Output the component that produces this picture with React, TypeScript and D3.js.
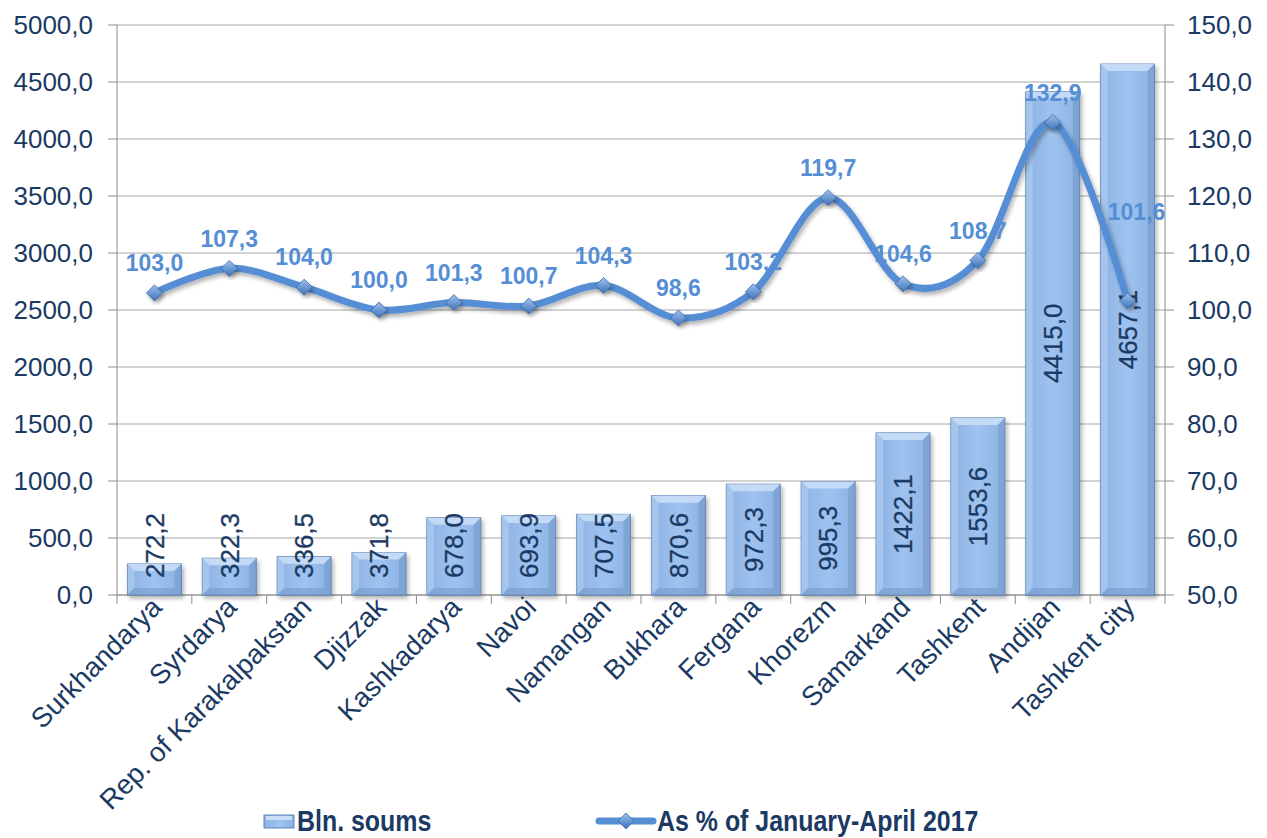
import React from "react";
import * as d3 from "d3";

const categories = [
  "Surkhandarya", "Syrdarya", "Rep. of Karakalpakstan", "Djizzak", "Kashkadarya",
  "Navoi", "Namangan", "Bukhara", "Fergana", "Khorezm", "Samarkand", "Tashkent",
  "Andijan", "Tashkent city",
];
const blnSoums = [272.2, 322.3, 336.5, 371.8, 678.0, 693.9, 707.5, 870.6, 972.3, 995.3, 1422.1, 1553.6, 4415.0, 4657.1];
const asPercent = [103.0, 107.3, 104.0, 100.0, 101.3, 100.7, 104.3, 98.6, 103.2, 119.7, 104.6, 108.7, 132.9, 101.6];
const leftTicks = [0, 500, 1000, 1500, 2000, 2500, 3000, 3500, 4000, 4500, 5000];
const rightTicks = [50, 60, 70, 80, 90, 100, 110, 120, 130, 140, 150];
const seriesNames = ["Bln. soums", "As %  of January-April 2017"];

// label nudges (style only)
const lineLabelNudge: Record<number, [number, number]> = { 13: [9, -59] };

const W = 1267, H = 838;
const L = 117, R = 1165, T = 25, B = 595;
const FONT = "'Liberation Sans', Arial, Helvetica, sans-serif";
const TXT = "#1b3a63";
const LINE = "#558ed5";

const fmt = (v: number) => v.toFixed(1).replace(".", ",");

export default function App() {
  const x = d3.scaleBand<string>().domain(categories).range([L, R]).paddingInner(0.28).paddingOuter(0.14);
  const band = (R - L) / categories.length;
  const yL = d3.scaleLinear().domain([0, 5000]).range([B, T]);
  const yR = d3.scaleLinear().domain([50, 150]).range([B, T]);
  const cx = (c: string) => (x(c) as number) + x.bandwidth() / 2;

  const pts: [number, number][] = categories.map((c, i) => [cx(c), yR(asPercent[i])]);
  const linePath = d3.line().curve(d3.curveCardinal.tension(0))(pts) as string;

  const bw = x.bandwidth();
  const bv = 7;
  const fsAxis = 26;
  const fsX = 27.5;
  const fsLbl = 23;

  const diamond = (px: number, py: number, s = 8) =>
    `M${px},${py - s}L${px + s},${py}L${px},${py + s}L${px - s},${py}Z`;

  return (
    <svg width={W} height={H} style={{ position: "absolute", left: 0, top: 0, background: "#fff" }}>
      <defs>
        <linearGradient id="barG" x1="0" x2="1" y1="0" y2="0">
          <stop offset="0" stopColor="#8cb2e2" />
          <stop offset="0.5" stopColor="#9fc3f0" />
          <stop offset="1" stopColor="#8cb2e2" />
        </linearGradient>
        <linearGradient id="dG" x1="0" x2="0" y1="0" y2="1">
          <stop offset="0" stopColor="#9cc2f0" />
          <stop offset="1" stopColor="#3f72b8" />
        </linearGradient>
        <filter id="sh" x="-20%" y="-20%" width="140%" height="140%">
          <feDropShadow dx="2" dy="3" stdDeviation="2" floodColor="#000" floodOpacity="0.3" />
        </filter>
      </defs>

      {/* gridlines */}
      {leftTicks.map((t) => (
        <line key={"g" + t} x1={L} x2={R} y1={yL(t)} y2={yL(t)} stroke="#a6a6a6" strokeWidth={1} />
      ))}
      {/* axes */}
      <line x1={L} x2={L} y1={T} y2={B} stroke="#8c8c8c" />
      <line x1={R} x2={R} y1={T} y2={B} stroke="#8c8c8c" />
      {leftTicks.map((t) => (
        <g key={"l" + t}>
          <line x1={L - 9} x2={L} y1={yL(t)} y2={yL(t)} stroke="#8c8c8c" />
          <text x={93} y={yL(t) + 9.3} textAnchor="end" fontFamily={FONT} fontSize={fsAxis} fill={TXT}>
            {fmt(t)}
          </text>
        </g>
      ))}
      {rightTicks.map((t) => (
        <g key={"r" + t}>
          <line x1={R} x2={R + 9} y1={yR(t)} y2={yR(t)} stroke="#8c8c8c" />
          <text x={1187} y={yR(t) + 9.3} textAnchor="start" fontFamily={FONT} fontSize={fsAxis} fill={TXT}>
            {fmt(t)}
          </text>
        </g>
      ))}
      {/* x ticks */}
      {d3.range(categories.length + 1).map((i) => (
        <line key={"xt" + i} x1={L + i * band} x2={L + i * band} y1={B} y2={B + 9} stroke="#8c8c8c" />
      ))}
      <line x1={L} x2={R} y1={B} y2={B} stroke="#8c8c8c" />

      {/* bars */}
      {categories.map((c, i) => {
        const x0 = x(c) as number;
        const y0 = yL(blnSoums[i]);
        const h = B - y0;
        return (
          <g key={"b" + c}>
            <rect x={x0} y={y0} width={bw} height={h} fill="url(#barG)" stroke="#5f82b6" strokeWidth={1} filter="url(#sh)" />
            <path d={`M${x0},${y0}L${x0 + bw},${y0}L${x0 + bw - bv},${y0 + bv}L${x0 + bv},${y0 + bv}Z`} fill="#c9def7" opacity={0.9} />
            <path d={`M${x0},${y0}L${x0 + bv},${y0 + bv}L${x0 + bv},${B - bv}L${x0},${B}Z`} fill="#b4d0f3" opacity={0.6} />
            <path d={`M${x0 + bw},${y0}L${x0 + bw - bv},${y0 + bv}L${x0 + bw - bv},${B - bv}L${x0 + bw},${B}Z`} fill="#6f95c8" opacity={0.5} />
            <path d={`M${x0},${B}L${x0 + bv},${B - bv}L${x0 + bw - bv},${B - bv}L${x0 + bw},${B}Z`} fill="#6f95c8" opacity={0.5} />
          </g>
        );
      })}

      {/* bar labels */}
      {categories.map((c, i) => {
        const s = fmt(blnSoums[i]);
        const len = (s.length - 1) * 0.556 * fsAxis + 0.278 * fsAxis;
        const mid = (yL(blnSoums[i]) + B) / 2;
        const cy = Math.min(mid, B - 17 - len / 2);
        const px = cx(c);
        return (
          <text key={"bl" + c} transform={`translate(${px + 9.3},${cy}) rotate(-90)`} textAnchor="middle"
            fontFamily={FONT} fontSize={fsAxis} fill={TXT} stroke={TXT} strokeWidth={0.3}>
            {s}
          </text>
        );
      })}

      {/* line */}
      <path d={linePath} fill="none" stroke={LINE} strokeWidth={7} strokeLinecap="round" filter="url(#sh)" />
      {pts.map(([px, py], i) => (
        <path key={"m" + i} d={diamond(px, py)} fill="url(#dG)" stroke="#3a6aa8" strokeWidth={0.8} filter="url(#sh)" />
      ))}
      {pts.map(([px, py], i) => {
        const n = lineLabelNudge[i] || [0, 0];
        return (
          <text key={"ll" + i} x={px + n[0]} y={py - 30 + 8.2 + n[1]} textAnchor="middle" fontFamily={FONT}
            fontWeight="bold" fontSize={fsLbl} fill={LINE}>
            {fmt(asPercent[i])}
          </text>
        );
      })}

      {/* x labels */}
      {categories.map((c) => (
        <text key={"xl" + c} transform={`translate(${cx(c) + 9},${609}) rotate(-45)`} textAnchor="end"
          fontFamily={FONT} fontSize={fsX} fill={TXT}>
          {c}
        </text>
      ))}

      {/* legend */}
      <g>
        <rect x={264} y={815} width={30} height={13} fill="url(#barG)" stroke="#5f82b6" />
        <rect x={266} y={816} width={26} height={4} fill="#c9def7" />
        <text transform={`translate(297,831) scale(0.86,1)`} fontFamily={FONT} fontWeight="bold" fontSize={29} fill={TXT}>
          {seriesNames[0]}
        </text>
        <line x1={599} x2={653} y1={821} y2={821} stroke={LINE} strokeWidth={7} strokeLinecap="round" />
        <path d={diamond(626, 821, 8)} fill="url(#dG)" stroke="#3a6aa8" strokeWidth={0.8} />
        <text transform={`translate(657,831) scale(0.86,1)`} fontFamily={FONT} fontWeight="bold" fontSize={29} fill={TXT}>
          {seriesNames[1]}
        </text>
      </g>
    </svg>
  );
}
